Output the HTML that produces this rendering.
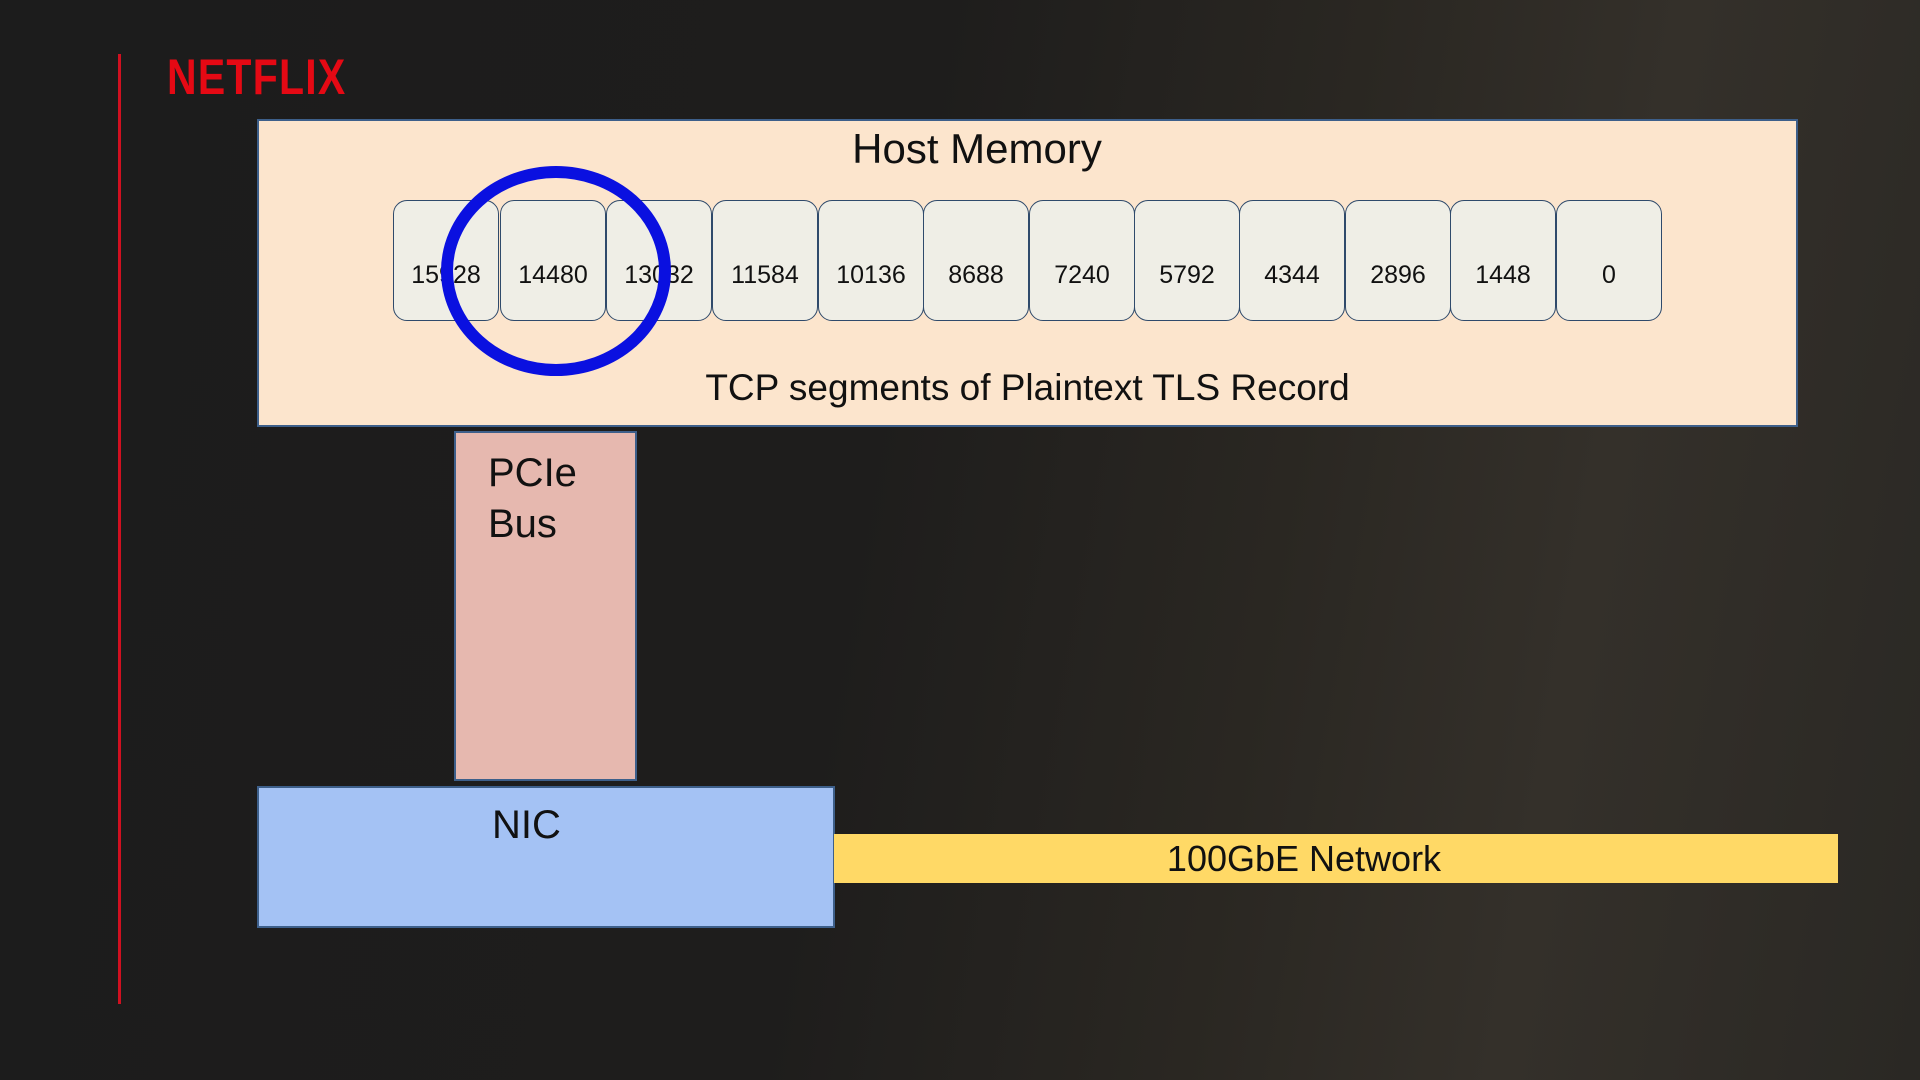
<!DOCTYPE html>
<html><head><meta charset="utf-8"><style>
html,body{margin:0;padding:0}
body{width:1920px;height:1080px;position:relative;overflow:hidden;font-family:"Liberation Sans",Arial,sans-serif;
background:linear-gradient(100deg,#1c1c1c 0%,#1e1d1c 45%,#2a2722 65%,#34302a 80%,#2a2824 100%);}
.abs{position:absolute;box-sizing:border-box}
.seg{position:absolute;top:200px;height:121px;width:106px;border:1.5px solid #2f4a6b;border-radius:14px;background:#efeee6;
display:flex;align-items:center;justify-content:center;font-size:25px;color:#111;box-sizing:border-box;padding-top:30px}
</style></head><body>
<div class="abs" style="left:118px;top:54px;width:3px;height:950px;background:#d01020"></div>
<div class="abs" style="left:167px;top:48px;font-size:50px;font-weight:bold;color:#e50914;letter-spacing:1.5px;transform:scaleX(0.82);transform-origin:left;font-family:'Liberation Sans Narrow','Liberation Sans',sans-serif">NETFLIX</div>

<div class="abs" style="left:257px;top:119px;width:1541px;height:308px;background:#fce5cd;border:2px solid #3d5f8a"></div>
<div class="abs" style="left:257px;top:125px;width:1440px;text-align:center;font-size:42px;color:#111">Host Memory</div>
<div class="seg" style="left:393px">15928</div>
<div class="seg" style="left:500px">14480</div>
<div class="seg" style="left:606px">13032</div>
<div class="seg" style="left:712px">11584</div>
<div class="seg" style="left:818px">10136</div>
<div class="seg" style="left:923px">8688</div>
<div class="seg" style="left:1029px">7240</div>
<div class="seg" style="left:1134px">5792</div>
<div class="seg" style="left:1239px">4344</div>
<div class="seg" style="left:1345px">2896</div>
<div class="seg" style="left:1450px">1448</div>
<div class="seg" style="left:1556px">0</div>
<div class="abs" style="left:257px;top:367px;width:1541px;text-align:center;font-size:37px;color:#111">TCP segments of Plaintext TLS Record</div>
<svg class="abs" style="left:0;top:0" width="1920" height="1080"><ellipse cx="556" cy="271" rx="109" ry="99" fill="none" stroke="#0a10e0" stroke-width="12"/></svg>

<div class="abs" style="left:454px;top:431px;width:183px;height:350px;background:#e6b8af;border:2px solid #3d5f8a;padding:15px 0 0 32px;font-size:40px;line-height:51px;color:#111">PCIe<br>Bus</div>
<div class="abs" style="left:257px;top:786px;width:578px;height:142px;background:#a4c2f4;border:2px solid #3d5f8a;padding:15px 0 0 233px;font-size:40px;color:#111">NIC</div>
<div class="abs" style="left:834px;top:834px;width:1004px;height:49px;background:#ffd966;padding-right:64px;text-align:center;font-size:36px;line-height:49px;color:#111">100GbE Network</div>
</body></html>
